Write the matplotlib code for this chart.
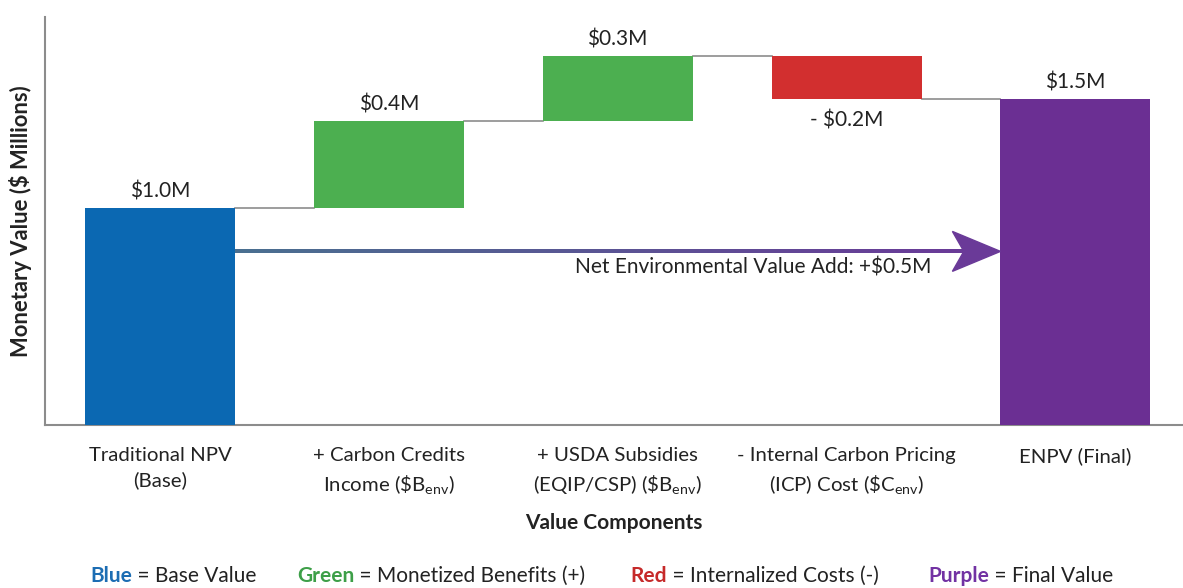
import numpy as np
import matplotlib
matplotlib.use('Agg')
import matplotlib.pyplot as plt
from matplotlib.colors import LinearSegmentedColormap
from matplotlib.patches import Polygon

plt.rcParams['font.family'] = ['Lato', 'DejaVu Sans']
plt.rcParams['mathtext.fontset'] = 'custom'
plt.rcParams['mathtext.rm'] = 'Lato'

# --- 数据 ---
categories = ['Traditional NPV\n(Base)',
              '+ Carbon Credits\nIncome (\\$B$_{\\mathregular{env}}$)',
              '+ USDA Subsidies\n(EQIP/CSP) (\\$B$_{\\mathregular{env}}$)',
              '- Internal Carbon Pricing\n(ICP) Cost (\\$C$_{\\mathregular{env}}$)',
              'ENPV (Final)']
values = [1.0, 0.4, 0.3, -0.2, 1.5]
kinds = ['base', 'benefit', 'benefit', 'cost', 'final']
value_labels = ['\\$1.0M', '\\$0.4M', '\\$0.3M', '- \\$0.2M', '\\$1.5M']
net_label = 'Net Environmental Value Add: +\\$0.5M'
legend_words = ['Blue', 'Green', 'Red', 'Purple']
legend_texts = [' = Base Value', ' = Monetized Benefits (+)', ' = Internalized Costs (-)', ' = Final Value']

bar_colors = {'base': '#0b68b2', 'benefit': '#4caf50', 'cost': '#d22f2f', 'final': '#6b2f93'}
legend_colors = ['#1c6db3', '#3d9f48', '#c62a2a', '#7232a3']
text_color = '#222222'
grid_grey = '#8c8c8c'

fig = plt.figure(figsize=(11.83, 5.88), dpi=100)
ax = fig.add_axes([45 / 1183, 1 - 425 / 588, 1 - 45 / 1183, (425 - 17) / 588])

# 计算瀑布图底部
bottoms, heights, tops = [], [], []
running = 0.0
for v, k in zip(values, kinds):
    if k in ('base', 'final'):
        b, h = 0.0, v
        running = v
    elif v >= 0:
        b, h = running, v
        running += v
    else:
        b, h = running + v, -v
        running += v
    bottoms.append(b)
    heights.append(h)
    tops.append(running)

x = np.arange(len(values))
width = 0.655
ax.bar(x, heights, bottom=bottoms, width=width,
       color=[bar_colors[k] for k in kinds], zorder=3)

# 连接线
for i in range(len(values) - 1):
    ax.plot([x[i] + width / 2, x[i + 1] - width / 2], [tops[i], tops[i]],
            color=grid_grey, lw=1.2, zorder=2)

# 数值标签
for i, (lbl, k) in enumerate(zip(value_labels, kinds)):
    if k == 'cost':
        ax.text(x[i], bottoms[i] - 0.05, lbl, ha='center', va='top',
                fontsize=15, color=text_color)
    else:
        ax.text(x[i], bottoms[i] + heights[i] + 0.03, lbl, ha='center', va='bottom',
                fontsize=15, color=text_color)

# 渐变箭头
arrow_y = 0.80
x0, x1 = x[0] + width / 2, x[-1] - width / 2
head_len = 0.20
grad = LinearSegmentedColormap.from_list('arrow', ['#4a7090', '#6a3a98'])
ax.imshow(np.linspace(0, 1, 256).reshape(1, -1), cmap=grad, aspect='auto',
          extent=[x0, x1 - head_len + 0.04, arrow_y - 0.009, arrow_y + 0.009],
          zorder=4, interpolation='bilinear')
ax.add_patch(Polygon([(x1 - head_len - 0.01, arrow_y + 0.092), (x1, arrow_y),
                      (x1 - head_len - 0.01, arrow_y - 0.092), (x1 - head_len + 0.04, arrow_y)],
                     closed=True, color='#6a3a98', zorder=4))
ax.text(2.59, arrow_y - 0.03, net_label, ha='center', va='top', fontsize=15, color=text_color)

ax.set_xlim(-0.502, 4.47)
ax.set_ylim(0, 1.88)
ax.set_xticks(x)
ax.set_xticklabels(categories, fontsize=14.7, color=text_color, linespacing=1.5)
ax.tick_params(axis='x', length=0, pad=16)
ax.set_yticks([])
for s in ['top', 'right']:
    ax.spines[s].set_visible(False)
for s in ['left', 'bottom']:
    ax.spines[s].set_color(grid_grey)
    ax.spines[s].set_linewidth(1.5)

ax.set_ylabel('Monetary Value (\\$ Millions)', fontsize=15.8, fontweight='bold',
              color=text_color, labelpad=9)
ax.set_xlabel('Value Components', fontsize=15, fontweight='bold',
              color=text_color, labelpad=12)

# 底部图例
fig.canvas.draw()
renderer = fig.canvas.get_renderer()
legend_x = [90, 297, 630, 928]
for lx, w, t, c in zip(legend_x, legend_words, legend_texts, legend_colors):
    tw = fig.text(lx / 1183, 1 - 576 / 588, w, ha='left', va='center',
                  fontsize=15, fontweight='bold', color=c)
    bb = tw.get_window_extent(renderer)
    fig.text(bb.x1 / fig.bbox.width, 1 - 576 / 588, t, ha='left', va='center',
             fontsize=15, color=text_color)

fig.savefig('out.png', dpi=100)
